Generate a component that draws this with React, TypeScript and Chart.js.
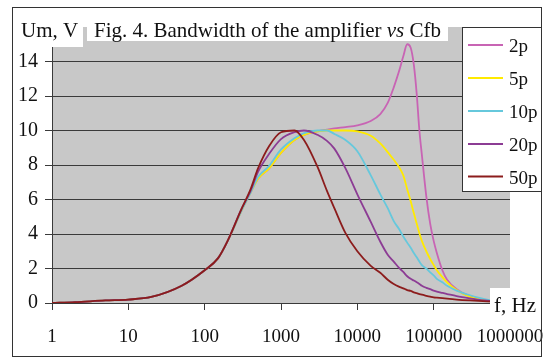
import React, { useEffect, useRef } from "react";
import { Chart, registerables } from "chart.js";

Chart.register(...registerables);

// ---------- data ----------
const FREQ = [
  1, 2, 5, 10, 20, 50, 100, 150, 200, 300, 400, 500, 700, 1000, 1500, 2000, 3000, 4000, 5000, 7000,
  10000, 15000, 20000, 25000, 30000, 35000, 40000, 45000, 50000, 55000, 60000, 65000, 70000, 80000,
  90000, 100000, 110000, 130000, 150000, 200000, 300000, 500000, 1000000,
];

const SERIES_LABELS = ["2p", "5p", "10p", "20p", "50p"];

const V_2P = [
  0, 0.05, 0.15, 0.2, 0.35, 1.0, 1.9, 2.6, 3.6, 5.3, 6.4,
  7.2, 7.8, 8.7, 9.45, 9.75, 9.95, 10.05, 10.12, 10.2, 10.3, 10.55, 10.95, 11.6, 12.5, 13.4, 14.3,
  15.0, 14.8, 13.8, 12.1, 10.0, 8.6, 6.2, 4.6, 3.6, 2.9, 1.9, 1.35, 0.8, 0.38, 0.15, 0.05,
];
const V_5P = [
  0, 0.05, 0.15, 0.2, 0.35, 1.0, 1.9, 2.6, 3.6, 5.3, 6.4,
  7.2, 7.8, 8.7, 9.45, 9.75, 9.95, 10.0, 10.0, 10.0, 9.95, 9.7, 9.25, 8.75, 8.3, 7.9, 7.4,
  6.6, 5.9, 5.2, 4.6, 4.05, 3.6, 3.0, 2.55, 2.2, 1.9, 1.5, 1.2, 0.75, 0.35, 0.15, 0.05,
];
const V_10P = [
  0, 0.05, 0.15, 0.2, 0.35, 1.0, 1.9, 2.6, 3.6, 5.3, 6.4,
  7.3, 7.95, 8.9, 9.55, 9.85, 10.0, 10.0, 9.8, 9.45, 8.8, 7.4, 6.3, 5.5, 4.75, 4.3, 3.85,
  3.5, 3.2, 2.9, 2.65, 2.4, 2.2, 2.0, 1.78, 1.6, 1.4, 1.2, 1.0, 0.72, 0.45, 0.2, 0.05,
];
const V_20P = [
  0, 0.05, 0.15, 0.2, 0.35, 1.0, 1.9, 2.6, 3.6, 5.4, 6.5,
  7.6, 8.65, 9.5, 9.9, 10.0, 9.75, 9.4, 8.95, 7.8, 6.3, 4.7, 3.55, 2.8, 2.4, 2.05, 1.8,
  1.55, 1.4, 1.3, 1.2, 1.1, 1.0, 0.88, 0.8, 0.72, 0.66, 0.58, 0.52, 0.4, 0.27, 0.13, 0.05,
];
const V_50P = [
  0, 0.05, 0.15, 0.2, 0.35, 1.0, 1.9, 2.6, 3.6, 5.4, 6.6,
  7.8, 9.1, 9.9, 10.0, 9.45, 7.9, 6.5, 5.5, 4.05, 3.0, 2.15, 1.75, 1.35, 1.1, 0.95, 0.85,
  0.75, 0.7, 0.62, 0.57, 0.52, 0.48, 0.42, 0.37, 0.33, 0.31, 0.28, 0.25, 0.2, 0.15, 0.1, 0.05,
];

const SERIES_VALUES = [V_2P, V_5P, V_10P, V_20P, V_50P];

const X_TICKS = [1, 10, 100, 1000, 10000, 100000, 1000000];
const X_TICK_LABELS = ["1", "10", "100", "1000", "10000", "100000", "1000000"];
const Y_MIN = 0;
const Y_MAX = 16;
const Y_STEP = 2;

const TITLE_PARTS = ["Fig. 4. Bandwidth of the amplifier ", "vs", " Cfb"];
const Y_AXIS_TITLE = "Um, V";
const X_AXIS_TITLE = "f, Hz";

// ---------- styles ----------
const COLORS = ["#c864b4", "#ffea00", "#66c8dc", "#8c3c94", "#8c1c1c"];
const PLOT_BG = "#c8c8c8";
const GRID = "#3a3a3a";
const FONT = '"Liberation Serif", "Times New Roman", serif';

const decorPlugin = {
  id: "decor",
  beforeDraw(chart: any) {
    const { ctx, chartArea: a, width, height } = chart;
    ctx.save();
    ctx.fillStyle = "#ffffff";
    ctx.fillRect(0, 0, width, height);
    ctx.fillStyle = PLOT_BG;
    ctx.fillRect(a.left, a.top, a.right - a.left, a.bottom - a.top);
    ctx.restore();
  },
  afterDraw(chart: any) {
    const { ctx } = chart;
    ctx.save();
    // white boxes behind the annotations
    ctx.fillStyle = "#ffffff";
    ctx.fillRect(13, 14, 70, 33); // Um, V
    ctx.fillRect(87, 14, 361, 27); // title
    ctx.fillRect(490, 288, 51, 32); // f, Hz

    ctx.fillStyle = "#111111";
    ctx.textBaseline = "alphabetic";
    ctx.textAlign = "left";
    ctx.font = `21px ${FONT}`;
    ctx.fillText(Y_AXIS_TITLE, 21, 37);

    let x = 94;
    ctx.font = `21px ${FONT}`;
    ctx.fillText(TITLE_PARTS[0], x, 37);
    x += ctx.measureText(TITLE_PARTS[0]).width;
    ctx.font = `italic 21px ${FONT}`;
    ctx.fillText(TITLE_PARTS[1], x, 37);
    x += ctx.measureText(TITLE_PARTS[1]).width;
    ctx.font = `21px ${FONT}`;
    ctx.fillText(TITLE_PARTS[2], x, 37);

    ctx.font = `21px ${FONT}`;
    ctx.fillText(X_AXIS_TITLE, 494, 312);

    // legend
    ctx.fillStyle = "#ffffff";
    ctx.fillRect(462.5, 27.5, 79, 164);
    ctx.strokeStyle = "#333333";
    ctx.lineWidth = 1;
    ctx.strokeRect(462.5, 27.5, 79, 164);
    const ys = [45, 78, 111, 144, 176.5];
    chart.data.datasets.forEach((ds: any, i: number) => {
      const y = ys[i];
      ctx.strokeStyle = ds.borderColor;
      ctx.lineWidth = 2;
      ctx.beginPath();
      ctx.moveTo(468, y);
      ctx.lineTo(503, y);
      ctx.stroke();
      ctx.fillStyle = "#111111";
      ctx.font = `19px ${FONT}`;
      ctx.fillText(ds.label, 509, y + 7);
    });

    // outer frame
    ctx.strokeStyle = "#333333";
    ctx.lineWidth = 1;
    ctx.strokeRect(12.5, 7.5, 529, 349);
    ctx.restore();
  },
};

export default function App() {
  const canvasRef = useRef<HTMLCanvasElement | null>(null);

  useEffect(() => {
    const canvas = canvasRef.current;
    if (!canvas) return;
    const datasets = SERIES_LABELS.map((label, i) => ({
      label,
      data: FREQ.map((f, j) => ({ x: f, y: SERIES_VALUES[i][j] })),
      borderColor: COLORS[i],
      backgroundColor: COLORS[i],
      borderWidth: 1.8,
      pointRadius: 0,
      fill: false,
      cubicInterpolationMode: "monotone" as const,
      order: SERIES_LABELS.length - i,
    }));

    const chart = new Chart(canvas, {
      type: "line",
      data: { datasets },
      plugins: [decorPlugin],
      options: {
        animation: false,
        responsive: false,
        devicePixelRatio: 1,
        layout: { padding: { left: 0, top: 27, right: 38, bottom: 0 } },
        plugins: {
          legend: { display: false },
          tooltip: { enabled: false },
          title: { display: false },
        },
        scales: {
          x: {
            type: "logarithmic",
            min: X_TICKS[0],
            max: X_TICKS[X_TICKS.length - 1],
            afterBuildTicks: (scale: any) => {
              scale.ticks = X_TICKS.map((v) => ({ value: v }));
            },
            afterFit: (scale: any) => {
              scale.height = 55;
              scale.paddingLeft = 0;
              scale.paddingRight = 0;
            },
            grid: {
              display: true,
              drawOnChartArea: false,
              drawTicks: true,
              tickLength: 7,
              color: GRID,
            },
            border: { display: true, color: GRID, width: 1 },
            ticks: {
              autoSkip: false,
              maxRotation: 0,
              minRotation: 0,
              padding: 16,
              color: "#111111",
              font: { family: FONT, size: 19 },
              callback: (v: any) => {
                const idx = X_TICKS.indexOf(Number(v));
                return idx >= 0 ? X_TICK_LABELS[idx] : "";
              },
            },
          },
          y: {
            type: "linear",
            min: Y_MIN,
            max: Y_MAX,
            afterFit: (scale: any) => {
              scale.width = 52;
              scale.paddingTop = 0;
              scale.paddingBottom = 0;
            },
            grid: {
              display: true,
              drawTicks: true,
              tickLength: 7,
              color: (c: any) => (c.tick && c.tick.value === Y_MAX ? "rgba(0,0,0,0)" : GRID),
            },
            border: { display: true, color: GRID, width: 1 },
            ticks: {
              stepSize: Y_STEP,
              padding: 7,
              color: "#111111",
              font: { family: FONT, size: 20 },
              callback: (v: any) => (Number(v) === Y_MAX ? "" : String(v)),
            },
          },
        },
      },
    });
    return () => chart.destroy();
  }, []);

  return (
    <div style={{ position: "fixed", left: 0, top: 0, width: 548, height: 358, background: "#fff" }}>
      <canvas ref={canvasRef} width={548} height={358} style={{ display: "block" }} />
    </div>
  );
}
